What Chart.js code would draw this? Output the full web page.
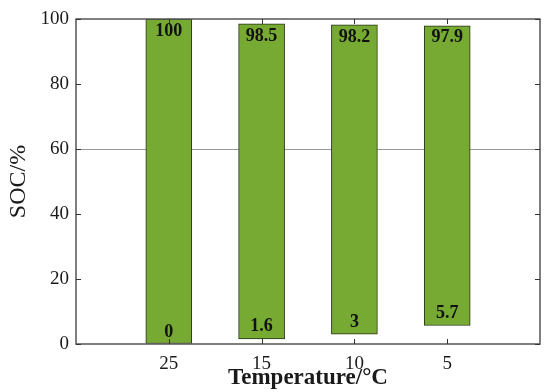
<!DOCTYPE html>
<html>
<head>
<meta charset="utf-8">
<script src="https://cdn.jsdelivr.net/npm/chart.js@4.4.0/dist/chart.umd.min.js"></script>
<style>
html,body{margin:0;padding:0;background:#fff;}
#wrap{width:550px;height:392px;}
</style>
</head>
<body>
<div id="wrap"><canvas id="c" width="550" height="392"></canvas></div>
<script>
const categories = ['', '25', '15', '10', '5', ''];
const lowValues = [null, 0, 1.6, 3, 5.7, null];
const highValues = [null, 100, 98.5, 98.2, 97.9, null];
const yTicks = [0, 20, 40, 60, 80, 100];

const ranges = lowValues.map((lo, i) => lo === null ? null : [lo, highValues[i]]);

const serif = '"Liberation Serif", "Times New Roman", serif';

const framePlugin = {
  id: 'frame',
  afterDatasetsDraw(chart) {
    const ctx = chart.ctx;
    const a = chart.chartArea;
    const xs = chart.scales.x, ys = chart.scales.y;
    ctx.save();
    ctx.strokeStyle = '#555';
    ctx.lineWidth = 1.5;
    ctx.strokeRect(a.left, a.top, a.right - a.left, a.bottom - a.top);
    ctx.lineWidth = 1;
    ctx.strokeStyle = '#333';
    const L = 5;
    yTicks.forEach(v => {
      const py = Math.round(ys.getPixelForValue(v)) + 0.5;
      ctx.beginPath();
      ctx.moveTo(a.left, py); ctx.lineTo(a.left + L, py);
      ctx.moveTo(a.right, py); ctx.lineTo(a.right - L, py);
      ctx.stroke();
    });
    categories.forEach((c, i) => {
      if (!c) return;
      const px = Math.round(xs.getPixelForValue(i)) + 0.5;
      ctx.beginPath();
      ctx.moveTo(px, a.bottom); ctx.lineTo(px, a.bottom - L);
      ctx.moveTo(px, a.top); ctx.lineTo(px, a.top + L);
      ctx.stroke();
    });
    ctx.fillStyle = '#111';
    ctx.font = 'bold 18px ' + serif;
    ctx.textAlign = 'center';
    const meta = chart.getDatasetMeta(0);
    meta.data.forEach((bar, i) => {
      if (lowValues[i] === null) return;
      const x = bar.x;
      const yTop = ys.getPixelForValue(highValues[i]);
      const yBot = ys.getPixelForValue(lowValues[i]);
      ctx.textBaseline = 'top';
      ctx.fillText(String(highValues[i]), x, yTop + 3);
      ctx.textBaseline = 'bottom';
      ctx.fillText(String(lowValues[i]), x, yBot - 3);
    });
    ctx.restore();
  }
};

new Chart(document.getElementById('c'), {
  type: 'bar',
  data: {
    labels: categories,
    datasets: [{
      data: ranges,
      backgroundColor: '#77AA33',
      borderColor: '#263318',
      borderWidth: 1,
      borderSkipped: false,
      barThickness: 46
    }]
  },
  options: {
    responsive: false,
    animation: false,
    layout: { padding: { left: 0, right: 10, top: 19, bottom: 0 } },
    plugins: { legend: { display: false }, tooltip: { enabled: false } },
    scales: {
      x: {
        offset: false,
        grid: { display: false, drawTicks: false },
        border: { display: false },
        ticks: {
          color: '#1a1a1a',
          font: { family: serif, size: 19 },
          padding: 9,
          maxRotation: 0,
          autoSkip: false
        },
        title: {
          display: true,
          text: 'Temperature/°C',
          color: '#1a1a1a',
          font: { family: serif, size: 23, weight: 'bold' },
          padding: { top: -10, bottom: 0 }
        },
        afterFit(s) { s.height = 48; }
      },
      y: {
        min: 0, max: 100,
        afterBuildTicks(s) { s.ticks = yTicks.map(v => ({ value: v })); },
        grid: {
          drawTicks: false,
          color: ctx => ctx.tick && ctx.tick.value === 60 ? '#999' : 'rgba(0,0,0,0)',
          lineWidth: 1
        },
        border: { display: false },
        ticks: {
          color: '#1a1a1a',
          font: { family: serif, size: 19 },
          padding: 7
        },
        title: {
          display: true,
          text: 'SOC/%',
          color: '#1a1a1a',
          font: { family: serif, size: 24 },
          padding: { top: 4, bottom: 4 }
        },
        afterFit(s) { s.width = 76; }
      }
    }
  },
  plugins: [framePlugin]
});
</script>
</body>
</html>
